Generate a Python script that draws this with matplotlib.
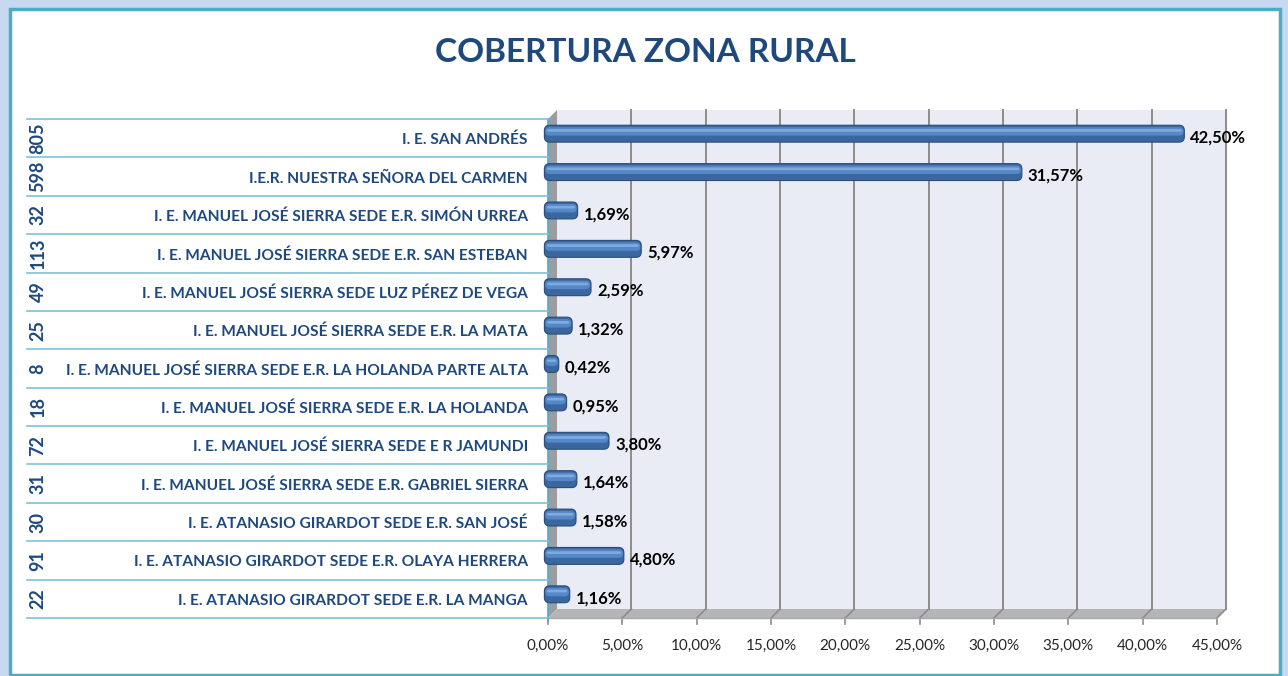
import matplotlib.pyplot as plt
from matplotlib.patches import Rectangle, Polygon, FancyBboxPatch
from matplotlib.lines import Line2D
from matplotlib.transforms import blended_transform_factory

W, H, DPI = 1288, 676, 100

schools = [
    'I. E. SAN ANDRÉS',
    'I.E.R. NUESTRA SEÑORA DEL CARMEN',
    'I. E. MANUEL JOSÉ SIERRA SEDE E.R. SIMÓN URREA',
    'I. E. MANUEL JOSÉ SIERRA SEDE E.R. SAN ESTEBAN',
    'I. E. MANUEL JOSÉ SIERRA SEDE LUZ PÉREZ DE VEGA',
    'I. E. MANUEL JOSÉ SIERRA SEDE E.R. LA MATA',
    'I. E. MANUEL JOSÉ SIERRA SEDE E.R. LA HOLANDA PARTE ALTA',
    'I. E. MANUEL JOSÉ SIERRA SEDE E.R. LA HOLANDA',
    'I. E. MANUEL JOSÉ SIERRA SEDE E R JAMUNDI',
    'I. E. MANUEL JOSÉ SIERRA SEDE E.R. GABRIEL SIERRA',
    'I. E. ATANASIO GIRARDOT SEDE E.R. SAN JOSÉ',
    'I. E. ATANASIO GIRARDOT SEDE E.R. OLAYA HERRERA',
    'I. E. ATANASIO GIRARDOT SEDE E.R. LA MANGA',
]
students = [805, 598, 32, 113, 49, 25, 8, 18, 72, 31, 30, 91, 22]
coverage = [42.50, 31.57, 1.69, 5.97, 2.59, 1.32, 0.42, 0.95, 3.80, 1.64, 1.58, 4.80, 1.16]
x_ticks = [0, 5, 10, 15, 20, 25, 30, 35, 40, 45]

FONT = ['Lato', 'DejaVu Sans']
DARK_BLUE = '#1f497d'
TEAL = '#4bacc6'
GRID = '#8c8c8c'

def pct(v):
    return f'{v:.2f}'.replace('.', ',') + '%'

def fy(y_px):
    return 1 - y_px / H

fig = plt.figure(figsize=(W / DPI, H / DPI), dpi=DPI)
fig.patch.set_facecolor('#c6d9f1')
fig.patches.append(Rectangle((10 / W, fy(675)), 1270 / W, 666 / H, transform=fig.transFigure,
                             facecolor='white', edgecolor=TEAL, lw=2.5, zorder=-5))

# front plane of the 3D plot box
left, right, top, bottom = 548, 1217, 119, 618
ax = fig.add_axes([left / W, fy(bottom), (right - left) / W, (bottom - top) / H])
ax.set_xlim(0, 45)
ax.set_ylim(len(schools) - 0.5, -0.5)
ax.axis('off')

n = len(schools)
DX = 45 * 9 / (right - left)     # depth offset in data units
DY = n * 9 / (bottom - top)
y0, y1 = -0.5, n - 0.5

# walls
ax.add_patch(Rectangle((DX, y0 - DY), 45, n, facecolor='#e9ecf5', edgecolor='none', zorder=0, clip_on=False))
ax.add_patch(Polygon([(0, y0), (0, y1), (DX, y1 - DY), (DX, y0 - DY)], closed=True,
                     facecolor='#9c9da0', edgecolor='none', zorder=1, clip_on=False))
ax.add_patch(Polygon([(0, y1), (45, y1), (45 + DX, y1 - DY), (DX, y1 - DY)], closed=True,
                     facecolor='#b3b5b9', edgecolor='none', zorder=1, clip_on=False))

# gridlines on back wall and floor, ticks below
tick_len = n * 6 / (bottom - top)
for t in x_ticks:
    if t > 0:
        ax.add_line(Line2D([t + DX, t + DX], [y0 - DY, y1 - DY], color=GRID, lw=1.4, zorder=1, clip_on=False))
        ax.add_line(Line2D([t + DX, t], [y1 - DY, y1], color=GRID, lw=1.2, zorder=2, clip_on=False))
    ax.add_line(Line2D([t, t], [y1, y1 + tick_len], color=GRID, lw=1.2, zorder=2, clip_on=False))
ax.add_line(Line2D([0, 45], [y1, y1], color='#a6a8ac', lw=1, zorder=2, clip_on=False))
ax.add_line(Line2D([0, 0], [y0, y1 + tick_len * 0.4], color=TEAL, lw=1.2, zorder=3, clip_on=False))

# bars (cylinder look)
bh = 0.44
aspect = ((right - left) / 45) / ((bottom - top) / n)
for i, v in enumerate(coverage):
    xs = -DX * 0.4
    yc = i - DY / 2
    w = v - xs + DX / 2
    ax.add_patch(FancyBboxPatch((xs, yc - bh / 2), w, bh, boxstyle='round,pad=0,rounding_size=0.35',
                                mutation_aspect=aspect, facecolor='#3b679f', edgecolor='#2b4c78',
                                lw=0.8, zorder=4, clip_on=False))
    ax.add_patch(FancyBboxPatch((xs + 0.05, yc - bh / 2 + 0.05), w - 0.1, bh * 0.5,
                                boxstyle='round,pad=0,rounding_size=0.3', mutation_aspect=aspect,
                                facecolor='#5588c8', edgecolor='none', zorder=5, clip_on=False))
    ax.add_patch(FancyBboxPatch((xs + 0.12, yc - bh / 2 + 0.1), w - 0.24, bh * 0.16,
                                boxstyle='round,pad=0,rounding_size=0.2', mutation_aspect=aspect,
                                facecolor='#8cb2e2', edgecolor='none', alpha=0.8, zorder=6, clip_on=False))
    ax.text(v + DX / 2 + 0.4, i - 0.02, pct(v), ha='left', va='center', fontsize=12,
            fontweight='bold', color='black', family=FONT, zorder=7, clip_on=False)

# category table on the left
row_tr = blended_transform_factory(fig.transFigure, ax.transData)
for k in range(n + 1):
    ax.add_line(Line2D([27 / W, left / W], [k - 0.5, k - 0.5], transform=row_tr,
                       color='#7cc3d6', lw=1.2, zorder=3, clip_on=False))
for i, (name, num) in enumerate(zip(schools, students)):
    ax.text(528 / W, i + 0.05, name, transform=row_tr, ha='right', va='center', fontsize=11.2,
            fontweight='bold', color=DARK_BLUE, family=FONT, clip_on=False)
    ax.text(38 / W, i, str(num), transform=row_tr, ha='center', va='center', rotation=90,
            fontsize=13, fontweight='bold', color=DARK_BLUE, family=FONT, clip_on=False)

# x tick labels
tick_tr = blended_transform_factory(ax.transData, fig.transFigure)
for t in x_ticks:
    ax.text(t, fy(646), pct(t), transform=tick_tr, ha='center', va='center', fontsize=11,
            color='#262626', family=FONT, clip_on=False)

fig.text(645 / W, fy(53), 'COBERTURA ZONA RURAL', ha='center', va='center', fontsize=24,
         fontweight='bold', color=DARK_BLUE, family=FONT)

fig.savefig('out.png', dpi=DPI, facecolor=fig.get_facecolor())
